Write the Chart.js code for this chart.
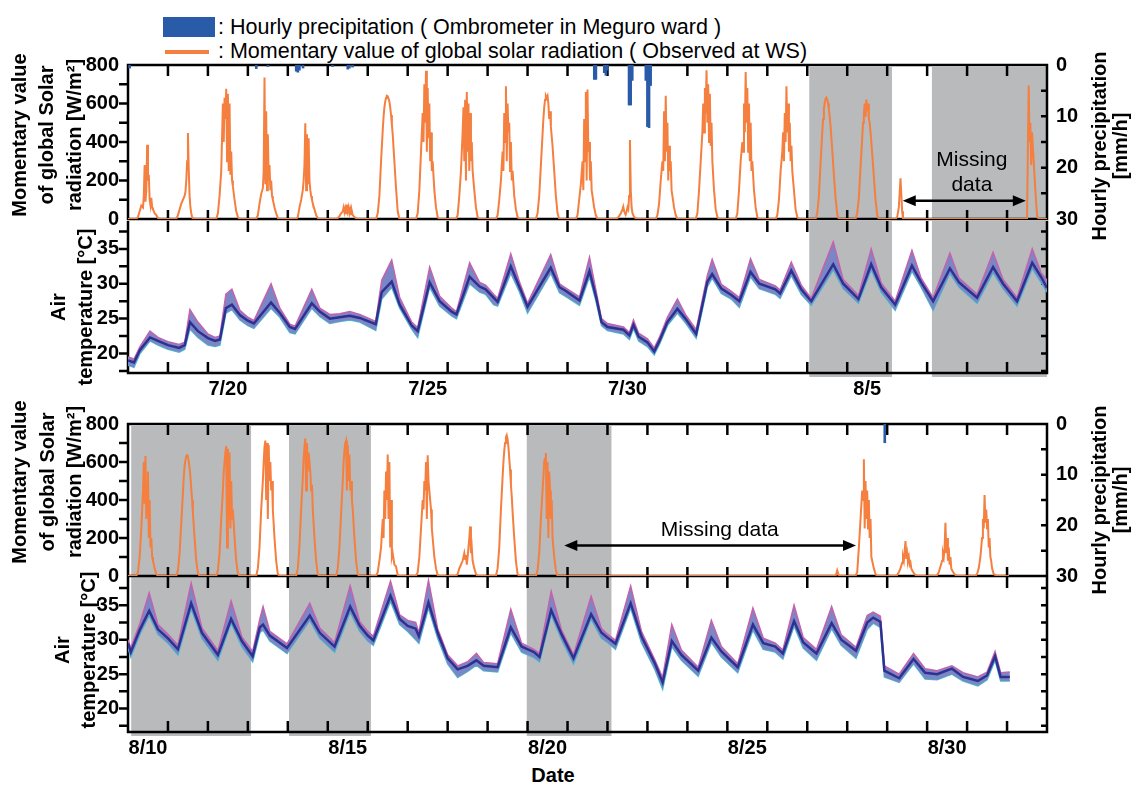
<!DOCTYPE html>
<html>
<head>
<meta charset="utf-8">
<script src="https://cdn.jsdelivr.net/npm/chart.js@4.4.1/dist/chart.umd.min.js"></script>
<style>
  html, body { margin: 0; padding: 0; background: #fff; }
  #page { position: relative; width: 1139px; height: 785px; overflow: hidden; font-family: 'Liberation Sans', Arial, sans-serif; color: #000; }
  #page canvas { position: absolute; left: 0; }
  .txt { position: absolute; font-size: 21.5px; line-height: 22px; white-space: nowrap; }
</style>
</head>
<body>
<div id="page">
  <div style="position:absolute;left:163px;top:17px;width:52px;height:20px;background:#2a5ba8"></div>
  <div class="txt" style="left:218px;top:16px">: Hourly precipitation ( Ombrometer in Meguro ward )</div>
  <div style="position:absolute;left:165px;top:50px;width:44px;height:4px;background:#f47f3f"></div>
  <div class="txt" style="left:218px;top:40px">: Momentary value of global solar radiation ( Observed at WS)</div>
  <canvas id="solarTop" width="1139" height="240" style="top:0px;z-index:2"></canvas>
  <canvas id="tempTop" width="1139" height="220" style="top:200px;z-index:1"></canvas>
  <canvas id="solarBottom" width="1139" height="240" style="top:360px;z-index:2"></canvas>
  <canvas id="tempBottom" width="1139" height="229" style="top:556px;z-index:1"></canvas>
  <div class="txt" style="left:0;width:1106px;text-align:center;top:764px;font-weight:bold;font-size:20px">Date</div>
</div>
<script>
var solarHours = [5, 6, 7, 8, 9, 9.5, 10, 10.5, 11, 11.5, 12, 12.5, 13, 13.5, 14, 14.5, 15, 16, 17, 18, 19];

// one row per day, 7/18 .. 8/9  (W/m2)
var solarTopRows = [
  [0, 10, 40, 70, 60, 120, 280, 90, 150, 386, 200, 230, 100, 70, 110, 60, 50, 30, 20, 5, 0],
  [0, 20, 50, 80, 100, 110, 120, 140, 200, 300, 447, 250, 120, 60, 30, 10, 0, 0, 0, 0, 0],
  [0, 30, 120, 250, 600, 400, 630, 520, 677, 300, 650, 250, 600, 230, 350, 200, 170, 100, 40, 10, 0],
  [0, 20, 80, 130, 160, 250, 735, 180, 560, 150, 440, 200, 280, 150, 200, 120, 100, 60, 30, 5, 0],
  [0, 10, 60, 100, 150, 200, 280, 497, 150, 440, 180, 420, 200, 150, 120, 100, 80, 50, 20, 5, 0],
  [0, 5, 15, 30, 40, 60, 35, 55, 30, 75, 40, 60, 30, 50, 25, 40, 20, 10, 5, 0, 0],
  [0, 30, 120, 300, 460, 530, 580, 610, 630, 640, 638, 625, 610, 580, 540, 490, 440, 300, 160, 40, 0],
  [0, 30, 150, 350, 550, 400, 700, 500, 770, 350, 680, 420, 600, 300, 450, 250, 300, 150, 60, 10, 0],
  [0, 20, 120, 250, 450, 580, 300, 620, 200, 660, 350, 600, 250, 550, 300, 400, 250, 150, 60, 10, 0],
  [0, 20, 100, 200, 350, 250, 550, 400, 690, 300, 600, 450, 500, 250, 400, 200, 250, 120, 50, 10, 0],
  [0, 30, 120, 280, 440, 520, 580, 620, 640, 630, 640, 600, 520, 560, 480, 430, 380, 250, 120, 30, 0],
  [0, 20, 100, 180, 300, 150, 520, 300, 660, 200, 673, 350, 400, 200, 300, 150, 120, 60, 20, 0, 0],
  [0, 5, 15, 30, 50, 64, 40, 30, 25, 40, 60, 50, 120, 410, 150, 60, 30, 10, 5, 0, 0],
  [0, 20, 80, 200, 300, 250, 560, 300, 640, 350, 500, 200, 380, 250, 300, 150, 120, 60, 20, 0, 0],
  [0, 30, 150, 300, 450, 600, 450, 680, 550, 772, 500, 700, 400, 650, 380, 500, 300, 150, 50, 10, 0],
  [0, 30, 150, 300, 400, 350, 600, 450, 763, 500, 680, 350, 600, 300, 500, 250, 300, 150, 60, 10, 0],
  [0, 20, 100, 250, 350, 450, 300, 550, 400, 690, 450, 600, 350, 500, 300, 380, 250, 150, 50, 10, 0],
  [0, 30, 120, 290, 450, 520, 570, 605, 625, 630, 620, 600, 570, 530, 480, 420, 360, 230, 110, 25, 0],
  [0, 30, 110, 270, 420, 500, 540, 600, 530, 621, 560, 600, 520, 500, 450, 400, 340, 220, 100, 20, 0],
  [0, 10, 60, 212, 40, 0],
  [],
  [],
  [0, 0, 0, 0, 0, 0, 0, 0, 0, 0, 0, 0, 694, 400, 500, 280, 450, 300, 150, 20, 0]
];

// one row per day, 8/10 .. 8/31
var solarBottomRows = [
  [0, 20, 100, 250, 450, 600, 380, 631, 300, 470, 550, 200, 400, 150, 200, 100, 80, 40, 10, 0, 0],
  [0, 30, 120, 280, 440, 520, 580, 610, 630, 636, 630, 600, 570, 520, 460, 400, 330, 200, 80, 15, 0],
  [0, 30, 120, 300, 450, 550, 600, 650, 683, 150, 670, 300, 650, 250, 500, 300, 350, 200, 80, 15, 0],
  [0, 40, 150, 350, 500, 600, 680, 713, 400, 700, 300, 690, 500, 600, 450, 500, 350, 200, 80, 10, 0],
  [0, 40, 160, 350, 520, 620, 680, 723, 450, 700, 550, 650, 600, 550, 450, 480, 350, 200, 80, 10, 0],
  [0, 40, 150, 330, 500, 600, 660, 700, 713, 450, 690, 500, 640, 450, 500, 400, 350, 200, 80, 10, 0],
  [0, 20, 80, 150, 300, 200, 450, 300, 550, 400, 640, 300, 600, 150, 400, 100, 120, 60, 50, 5, 0],
  [0, 20, 100, 250, 400, 350, 500, 450, 600, 300, 636, 500, 450, 400, 350, 250, 200, 100, 40, 5, 0],
  [0, 10, 40, 60, 80, 100, 120, 90, 110, 60, 100, 150, 200, 261, 120, 150, 80, 40, 10, 0, 0],
  [0, 40, 150, 350, 520, 600, 660, 700, 730, 741, 720, 680, 620, 560, 480, 420, 340, 200, 80, 10, 0],
  [0, 30, 120, 300, 450, 520, 600, 620, 647, 300, 600, 200, 550, 450, 300, 400, 200, 100, 30, 0, 0],
  [], [], [], [], [], [],
  [0, 0, 0, 0, 0, 0, 0, 0, 0, 0, 0, 0, 0, 0, 0, 0, 0, 0, 0, 30, 0],
  [0, 20, 150, 300, 450, 400, 614, 250, 500, 300, 450, 250, 400, 200, 300, 100, 80, 40, 10, 0, 0],
  [0, 5, 20, 40, 70, 100, 80, 130, 184, 90, 120, 80, 100, 60, 70, 40, 30, 15, 5, 0, 0],
  [0, 5, 20, 50, 80, 120, 100, 150, 280, 120, 200, 80, 150, 60, 100, 40, 30, 15, 5, 0, 0],
  [0, 10, 40, 100, 200, 300, 250, 426, 280, 350, 250, 300, 150, 200, 100, 80, 40, 10, 5, 0, 0]
];

// hourly precipitation (time in days from panel start, mm/h)
var rainTopT = [0.04, 3.21, 3.50, 4.21, 4.25, 4.29, 4.38, 5.12, 5.50, 5.54, 5.62, 11.67, 11.71, 11.92, 11.96, 12.00, 12.54, 12.58, 12.62, 12.96, 13.00, 13.04, 13.08];
var rainTopMm = [0.6, 0.7, 0.3, 1.2, 1.4, 1.0, 0.6, 0.3, 0.8, 0.6, 0.4, 2.8, 2.8, 1.5, 2.0, 1.0, 7.8, 7.8, 3.0, 3.0, 12.0, 12.2, 4.0];
var rainBottomT = [18.94];
var rainBottomMm = [3.7];

// air temperature: time (days), mean of sensors, highest sensor, lowest sensor
var tempTopT = [0, 0.15, 0.3, 0.55, 0.75, 1, 1.28, 1.42, 1.55, 1.75, 2, 2.18, 2.3, 2.45, 2.6, 2.8, 3, 3.15, 3.58, 3.8,
  4.05, 4.18, 4.6, 4.8, 5.05, 5.3, 5.55, 5.8, 6.2, 6.35, 6.6, 6.8, 7.1, 7.25, 7.55, 7.8, 8.1, 8.22, 8.55, 8.8,
  8.95, 9.15, 9.25, 9.58, 9.8, 10, 10.58, 10.8, 10.95, 11.3, 11.55, 11.72, 11.85, 12, 12.4, 12.55, 12.65, 12.78, 13, 13.17,
  13.3, 13.5, 13.75, 13.95, 14.22, 14.5, 14.62, 14.85, 15.1, 15.3, 15.58, 15.8, 16.2, 16.32, 16.6, 16.85, 17.1, 17.65, 17.9, 18.28,
  18.6, 18.85, 19.2, 19.62, 19.85, 20.15, 20.57, 20.8, 21.25, 21.65, 21.9, 22.25, 22.63, 22.85, 23];
var tempTopMean = [19.0, 18.7, 20.5, 22.3, 21.8, 21.2, 20.8, 21.2, 24.5, 23.2, 22.2, 21.8, 22.0, 26.5, 27.0, 25.5, 24.7, 24.3, 27.3, 25.8,
  23.8, 23.5, 27.2, 26.0, 25.0, 25.2, 25.4, 25.1, 24.2, 28.8, 30.3, 27.0, 24.0, 23.2, 30.2, 27.5, 26.0, 25.6, 31.0, 29.6,
  29.2, 28.0, 27.4, 32.5, 29.5, 26.7, 32.3, 29.5, 29.0, 27.6, 31.8, 28.0, 24.5, 23.8, 23.4, 22.6, 24.1, 22.4, 21.6, 20.3,
  21.8, 24.5, 26.4, 25.0, 22.8, 30.3, 31.4, 29.3, 28.4, 27.5, 31.7, 30.0, 29.2, 28.6, 31.9, 29.2, 27.5, 32.8, 30.0, 27.8,
  32.8, 29.5, 27.0, 32.6, 30.2, 27.5, 32.2, 30.2, 28.0, 32.4, 30.0, 27.5, 33.0, 31.0, 29.4];
var tempTopHigh = [19.5, 19.2, 21.0, 23.2, 22.3, 21.7, 21.3, 21.6, 26.3, 24.5, 22.8, 22.3, 22.5, 28.5, 29.2, 26.2, 25.2, 24.7, 30.0, 26.5,
  24.2, 23.9, 29.2, 26.5, 25.6, 25.7, 26.0, 25.6, 24.6, 30.5, 33.4, 28.0, 24.5, 23.7, 32.4, 28.2, 26.5, 26.0, 33.0, 30.2,
  29.8, 28.5, 27.9, 34.3, 30.2, 27.2, 34.2, 30.0, 29.4, 28.1, 33.8, 28.8, 25.0, 24.3, 23.8, 23.0, 24.8, 22.9, 22.1, 20.8,
  22.3, 25.2, 27.8, 25.6, 23.4, 31.2, 33.5, 29.9, 28.9, 28.0, 33.6, 30.6, 29.7, 29.1, 33.1, 29.8, 27.9, 36.0, 30.6, 28.3,
  35.0, 30.1, 27.5, 34.8, 30.8, 28.0, 34.4, 30.8, 28.5, 34.5, 30.6, 28.0, 35.0, 31.6, 30.5];
var tempTopLow = [18.3, 18.0, 20.0, 21.8, 21.2, 20.6, 20.2, 20.6, 23.5, 22.3, 21.2, 21.0, 21.2, 25.8, 26.3, 24.8, 24.0, 23.6, 26.5, 25.2,
  23.0, 22.8, 26.5, 25.3, 24.3, 24.6, 24.8, 24.5, 23.3, 27.8, 29.5, 26.5, 23.5, 22.3, 29.5, 26.8, 25.4, 25.0, 30.0, 28.8,
  28.5, 27.0, 26.8, 31.5, 28.8, 25.8, 31.5, 28.7, 28.2, 26.9, 31.0, 27.3, 24.0, 23.3, 22.8, 22.0, 23.6, 21.8, 21.0, 19.8,
  21.3, 24.0, 25.8, 24.4, 22.2, 29.6, 30.8, 28.6, 27.8, 26.6, 31.0, 29.3, 28.5, 27.9, 31.2, 28.5, 26.9, 32.0, 29.3, 27.2,
  32.0, 28.8, 26.2, 31.8, 29.5, 26.2, 31.5, 29.5, 27.2, 31.6, 29.3, 26.8, 32.2, 30.2, 28.8];

var tempBottomT = [0, 0.07, 0.3, 0.53, 0.75, 1, 1.25, 1.58, 1.85, 2.25, 2.58, 2.85, 3.12, 3.3, 3.38, 3.55, 3.98, 4.55, 4.8, 5.17,
  5.56, 5.8, 6, 6.14, 6.57, 6.8, 7, 7.2, 7.28, 7.52, 7.75, 8, 8.25, 8.5, 8.72, 8.9, 9.25, 9.58, 9.85, 10.16,
  10.3, 10.59, 10.85, 11.15, 11.59, 11.85, 12, 12.2, 12.58, 12.85, 13.19, 13.38, 13.61, 13.85, 14.27, 14.6, 14.85, 15.26, 15.64, 15.9,
  16.2, 16.39, 16.67, 16.9, 17.23, 17.61, 17.85, 18.22, 18.5, 18.65, 18.83, 18.93, 19.3, 19.66, 19.95, 20.25, 20.62, 20.9, 21.27, 21.5,
  21.7, 21.84, 22.07];
var tempBottomMean = [29.5, 28.2, 31.5, 34.2, 31.5, 30.2, 28.6, 35.3, 31.0, 27.8, 33.0, 29.8, 27.6, 31.8, 32.2, 30.6, 28.8, 33.5, 31.0, 29.0,
  34.8, 32.0, 30.6, 29.9, 36.4, 33.0, 32.0, 31.6, 30.5, 35.4, 31.0, 27.3, 25.7, 26.2, 27.0, 26.2, 26.0, 31.8, 29.0, 28.2,
  27.5, 34.3, 30.8, 27.3, 33.7, 31.0, 30.3, 29.4, 35.3, 30.5, 26.5, 23.8, 29.8, 27.8, 25.5, 30.3, 28.3, 26.0, 32.2, 29.5,
  29.0, 28.0, 32.7, 29.6, 28.0, 32.4, 30.0, 28.4, 32.5, 33.2, 32.6, 25.5, 24.4, 27.2, 25.2, 25.0, 25.8, 24.6, 24.0, 24.8,
  27.6, 24.6, 24.6];
var tempBottomHigh = [30.0, 28.8, 32.4, 36.8, 32.2, 30.8, 29.2, 38.2, 31.7, 28.4, 35.6, 30.4, 28.3, 33.0, 34.8, 31.2, 29.4, 35.3, 31.7, 29.6,
  37.8, 32.6, 31.2, 30.5, 38.5, 33.6, 32.8, 32.5, 31.0, 38.6, 31.6, 27.8, 26.2, 26.8, 28.0, 26.7, 26.5, 34.4, 29.5, 28.6,
  28.0, 37.0, 31.4, 27.8, 36.3, 31.6, 30.8, 29.9, 37.8, 31.2, 27.0, 24.5, 32.2, 28.5, 26.0, 32.8, 29.0, 26.5, 34.6, 30.2,
  29.5, 28.5, 35.0, 30.3, 28.6, 34.8, 30.7, 28.9, 33.5, 34.0, 33.4, 26.2, 25.0, 28.0, 25.8, 25.5, 26.2, 25.2, 24.6, 25.3,
  28.3, 25.2, 25.3];
var tempBottomLow = [28.8, 27.5, 30.8, 33.5, 30.8, 29.5, 27.8, 34.5, 30.2, 27.0, 32.4, 29.0, 26.8, 31.0, 31.4, 29.8, 28.0, 32.8, 30.2, 28.2,
  34.0, 31.2, 29.8, 29.2, 35.6, 32.2, 31.2, 30.0, 29.5, 34.6, 30.2, 26.5, 24.5, 25.4, 26.3, 25.5, 25.3, 31.0, 28.2, 27.4,
  26.8, 33.6, 30.0, 26.5, 33.0, 30.2, 29.6, 28.6, 34.6, 29.6, 25.6, 22.8, 29.0, 27.0, 24.7, 29.6, 27.5, 25.2, 31.4, 28.6,
  28.2, 27.2, 32.0, 28.8, 27.0, 31.6, 29.2, 27.3, 31.5, 32.4, 31.8, 24.6, 23.8, 26.5, 24.3, 24.2, 25.0, 24.0, 23.3, 24.2,
  27.0, 24.0, 24.0];

// shaded periods (days from panel start)
var shadeTop = [[17.05, 19.12], [20.12, 23]];
var shadeBottom = [[0.08, 3.08], [4.03, 6.08], [9.98, 12.1]];

// date labels
var topStart = '7/18', topDates = ['7/20', '7/25', '7/30', '8/5'];
var bottomStart = '8/10', bottomDates = ['8/10', '8/15', '8/20', '8/25', '8/30'];

var FONT = "'Liberation Sans', Arial, sans-serif";
var ORANGE = '#f47f3f', BLUE = '#2a5ba8', GRAY = '#b9babc', NAVY = '#2e3192';
var tickFont = { family: FONT, size: 20, weight: 'bold' };

Chart.defaults.font.family = FONT;
Chart.defaults.color = '#000';

function dayPos(label, start) {
  var a = label.split('/').map(Number), b = start.split('/').map(Number);
  return (Date.UTC(2019, a[0] - 1, a[1]) - Date.UTC(2019, b[0] - 1, b[1])) / 864e5 + 0.5;
}

function solarPoints(rows, end) {
  var pts = [{ x: 0, y: 0 }];
  rows.forEach(function (row, d) {
    row.forEach(function (v, j) { pts.push({ x: d + solarHours[j] / 24, y: v }); });
  });
  pts.push({ x: end, y: 0 });
  return pts;
}

function framePlugin(cfg) {
  return {
    id: 'frame',
    beforeDatasetsDraw: function (chart) {
      var ctx = chart.ctx, a = chart.chartArea, scales = chart.scales, xs = scales.x;
      ctx.save();
      ctx.fillStyle = GRAY;
      cfg.shade.forEach(function (s) {
        var x0 = xs.getPixelForValue(s[0]), x1 = xs.getPixelForValue(s[1]);
        var t = a.top + (cfg.top ? 2 : 0);
        ctx.fillRect(x0, t, x1 - x0, a.bottom - t + cfg.below);
      });
      ctx.strokeStyle = '#000';
      ctx.lineWidth = 2.5;
      ctx.beginPath();
      ctx.moveTo(a.left, a.top); ctx.lineTo(a.left, a.bottom + 1.25);
      ctx.moveTo(a.right, a.top); ctx.lineTo(a.right, a.bottom + 1.25);
      if (cfg.top) { ctx.moveTo(a.left - 1.25, a.top); ctx.lineTo(a.right + 1.25, a.top); }
      ctx.moveTo(a.left - 1.25, a.bottom); ctx.lineTo(a.right + 1.25, a.bottom);
      for (var d = 1; d < xs.max; d++) {
        var px = xs.getPixelForValue(d);
        ctx.moveTo(px, a.top); ctx.lineTo(px, a.top + cfg.tickTop);
        ctx.moveTo(px, a.bottom); ctx.lineTo(px, a.bottom - cfg.tickBottom);
      }
      cfg.yTicks.forEach(function (t) {
        var sc = scales[t.axis];
        for (var v = Math.ceil(sc.min / t.step - 1e-6) * t.step; v <= sc.max + 1e-6; v += t.step) {
          var py = sc.getPixelForValue(v);
          if (py < a.top + 2 || py > a.bottom - 2) continue;
          if (t.side === 'left') { ctx.moveTo(a.left, py); ctx.lineTo(a.left - 9, py); }
          else { ctx.moveTo(a.right, py); ctx.lineTo(a.right - 6, py); }
        }
      });
      ctx.stroke();
      ctx.restore();
    }
  };
}

function notePlugin(notes) {
  return {
    id: 'notes',
    afterDatasetsDraw: function (chart) {
      var ctx = chart.ctx, xs = chart.scales.x, ys = chart.scales.y;
      ctx.save();
      notes.forEach(function (n) {
        var x0 = xs.getPixelForValue(n.from), x1 = xs.getPixelForValue(n.to), py = ys.getPixelForValue(n.at);
        ctx.strokeStyle = '#000';
        ctx.fillStyle = '#000';
        ctx.lineWidth = 2.5;
        ctx.beginPath(); ctx.moveTo(x0 + 8, py); ctx.lineTo(x1 - 8, py); ctx.stroke();
        [[x0, 1], [x1, -1]].forEach(function (h) {
          ctx.beginPath();
          ctx.moveTo(h[0], py);
          ctx.lineTo(h[0] + 13 * h[1], py - 5.5);
          ctx.lineTo(h[0] + 13 * h[1], py + 5.5);
          ctx.closePath();
          ctx.fill();
        });
        ctx.font = '21px ' + FONT;
        ctx.textAlign = 'center';
        ctx.textBaseline = 'middle';
        var lx = xs.getPixelForValue(n.lx), ly = ys.getPixelForValue(n.ly);
        n.label.forEach(function (s, i) { ctx.fillText(s, lx, ly + i * 25); });
      });
      ctx.restore();
    }
  };
}

function titlePlugin(items) {
  return {
    id: 'vtitles',
    afterDraw: function (chart) {
      var ctx = chart.ctx, top = chart.canvas.offsetTop;
      items.forEach(function (t) {
        t.lines.forEach(function (s, i) {
          ctx.save();
          ctx.translate(t.x[i], t.y - top);
          ctx.rotate(-Math.PI / 2);
          ctx.font = 'bold 20px ' + FONT;
          ctx.fillStyle = '#000';
          ctx.textAlign = 'center';
          ctx.textBaseline = 'middle';
          ctx.fillText(s, 0, 0);
          ctx.restore();
        });
      });
    }
  };
}

var solarTitle = ['Momentary value', 'of global Solar', 'radiation [W/m\u00b2]'];
var rainTitle = ['Hourly precipitation', '[mm/h]'];
var tempTitle = ['Air', 'temperature [\u00b0C]'];

function solarChart(id, rows, end, rainT, rainMm, shade, pad, notes, titles) {
  return new Chart(id, {
    type: 'line',
    data: {
      datasets: [
        {
          type: 'bar',
          data: rainT.map(function (t, i) { return { x: t, y: rainMm[i] }; }),
          yAxisID: 'yP',
          backgroundColor: BLUE,
          barThickness: 2,
          grouped: false
        },
        {
          data: solarPoints(rows, end),
          yAxisID: 'y',
          borderColor: ORANGE,
          borderWidth: 2,
          pointRadius: 0,
          tension: 0
        }
      ]
    },
    options: {
      responsive: false,
      animation: false,
      devicePixelRatio: 1,
      layout: { padding: { top: pad[0], bottom: pad[1], left: 0, right: 0 } },
      scales: {
        x: { type: 'linear', min: 0, max: 23, offset: false, display: false },
        y: {
          position: 'left', min: 0, max: 800,
          afterBuildTicks: function (s) { s.ticks = [0, 200, 400, 600, 800].map(function (v) { return { value: v }; }); },
          afterFit: function (s) { s.width = 128; },
          grid: { display: false, drawTicks: false },
          border: { display: false },
          ticks: { padding: 9, font: tickFont, color: '#000' }
        },
        yP: {
          position: 'right', min: 0, max: 30, reverse: true,
          afterBuildTicks: function (s) { s.ticks = [0, 10, 20, 30].map(function (v) { return { value: v }; }); },
          afterFit: function (s) { s.width = 92; },
          grid: { display: false, drawTicks: false },
          border: { display: false },
          ticks: { padding: 9, font: tickFont, color: '#000' }
        }
      },
      plugins: { legend: { display: false }, tooltip: { enabled: false } }
    },
    plugins: [
      framePlugin({ shade: shade, top: true, below: 0, tickTop: 11, tickBottom: 9,
        yTicks: [{ axis: 'y', step: 100, side: 'left' }, { axis: 'yP', step: 5, side: 'right' }] }),
      notePlugin(notes),
      titlePlugin(titles)
    ]
  });
}

function tempChart(id, t, mean, high, low, range, dates, start, shade, padTop, xHeight, titles) {
  var pos = dates.map(function (s) { return dayPos(s, start); });
  var pts = function (arr) { return t.map(function (x, i) { return { x: x, y: arr[i] }; }); };
  return new Chart(id, {
    type: 'line',
    data: {
      datasets: [
        { data: pts(mean), borderColor: NAVY, borderWidth: 2.5, pointRadius: 0, tension: 0 },
        { data: pts(high), borderColor: '#c462ae', borderWidth: 1.5, pointRadius: 0, tension: 0,
          fill: '+1', backgroundColor: '#7b87c4' },
        { data: pts(low), borderColor: '#3fbfd4', borderWidth: 1.5, pointRadius: 0, tension: 0 }
      ]
    },
    options: {
      responsive: false,
      animation: false,
      devicePixelRatio: 1,
      layout: { padding: { top: padTop, bottom: 0, left: 0, right: 92 } },
      scales: {
        x: {
          type: 'linear', min: 0, max: 23, offset: false,
          afterBuildTicks: function (s) { s.ticks = pos.map(function (v) { return { value: v }; }); },
          afterFit: function (s) { s.height = xHeight; },
          grid: { display: false, drawTicks: false },
          border: { display: false },
          ticks: {
            padding: 4, font: tickFont, color: '#000', autoSkip: false, maxRotation: 0,
            callback: function (v, i) { return dates[i]; }
          }
        },
        y: {
          position: 'left', min: range[0], max: range[1],
          afterBuildTicks: function (s) { s.ticks = [20, 25, 30, 35].map(function (v) { return { value: v }; }); },
          afterFit: function (s) { s.width = 128; },
          grid: { display: false, drawTicks: false },
          border: { display: false },
          ticks: { padding: 9, font: tickFont, color: '#000' }
        }
      },
      plugins: { legend: { display: false }, tooltip: { enabled: false } }
    },
    plugins: [
      framePlugin({ shade: shade, top: false, below: 4, tickTop: 11, tickBottom: 11,
        yTicks: [{ axis: 'y', step: 2.5, side: 'left' }, { axis: 'y', step: 2.5, side: 'right' }] }),
      titlePlugin(titles)
    ]
  });
}

solarChart('solarTop', solarTopRows, 23, rainTopT, rainTopMm, shadeTop, [65, 21],
  [{ from: 19.39, to: 22.47, at: 95, label: ['Missing', 'data'], lx: 21.12, ly: 306 }],
  [{ lines: solarTitle, x: [20, 47, 75], y: 135 }, { lines: rainTitle, x: [1100, 1121], y: 146 }]);

tempChart('tempTop', tempTopT, tempTopMean, tempTopHigh, tempTopLow, [17.2, 39.0],
  topDates, topStart, shadeTop, 19, 47,
  [{ lines: tempTitle, x: [59, 86], y: 307 }]);

solarChart('solarBottom', solarBottomRows, 22.05, rainBottomT, rainBottomMm, shadeBottom, [64, 24],
  [{ from: 10.92, to: 18.22, at: 160, label: ['Missing data'], lx: 14.81, ly: 239 }],
  [{ lines: solarTitle, x: [20, 48, 75], y: 482 }, { lines: rainTitle, x: [1100, 1121], y: 500 }]);

tempChart('tempBottom', tempBottomT, tempBottomMean, tempBottomHigh, tempBottomLow, [16.6, 39.1],
  bottomDates, bottomStart, shadeBottom, 20, 53,
  [{ lines: tempTitle, x: [63, 89], y: 650 }]);
</script>
</body>
</html>
